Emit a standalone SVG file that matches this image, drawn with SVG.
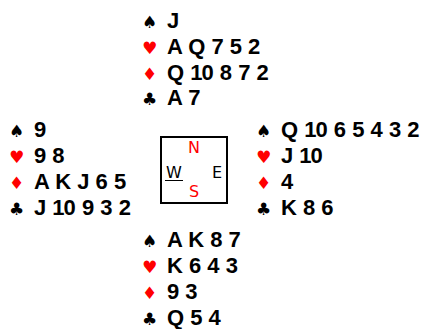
<svg xmlns="http://www.w3.org/2000/svg" width="424" height="329" viewBox="0 0 424 329">
<style>
.c{font-family:"Liberation Sans",Arial,sans-serif;font-weight:bold;font-size:22px;fill:#000}
.t{letter-spacing:-1px}
.s{font-family:"DejaVu Sans",sans-serif;font-size:17px}
.b{fill:#000}.r{fill:#f00}
.d{font-family:"DejaVu Sans",sans-serif;font-size:16px;text-anchor:middle}
</style>
<rect width="424" height="329" fill="#fff"/>
<g id="north">
<text class="s b" x="142" y="28">♠</text><text class="c" x="167" y="28">J</text>
<text class="s r" x="142" y="54">♥</text><text class="c" x="167" y="54">A Q 7 5 2</text>
<text class="s r" x="142" y="80">♦</text><text class="c" x="167" y="80">Q <tspan class="t">1</tspan>0 8 7 2</text>
<text class="s b" x="142" y="105">♣</text><text class="c" x="167" y="105">A 7</text>
</g>
<g id="west">
<text class="s b" x="9" y="137">♠</text><text class="c" x="34" y="137">9</text>
<text class="s r" x="9" y="163">♥</text><text class="c" x="34" y="163">9 8</text>
<text class="s r" x="9" y="189">♦</text><text class="c" x="34" y="189">A K J 6 5</text>
<text class="s b" x="9" y="215">♣</text><text class="c" x="34" y="215">J <tspan class="t">1</tspan>0 9 3 2</text>
</g>
<g id="east">
<text class="s b" x="256" y="137">♠</text><text class="c" x="281" y="137">Q <tspan class="t">1</tspan>0 6 5 4 3 2</text>
<text class="s r" x="256" y="163">♥</text><text class="c" x="281" y="163">J <tspan class="t">1</tspan>0</text>
<text class="s r" x="256" y="189">♦</text><text class="c" x="281" y="189">4</text>
<text class="s b" x="256" y="215">♣</text><text class="c" x="281" y="215">K 8 6</text>
</g>
<g id="south">
<text class="s b" x="142" y="247">♠</text><text class="c" x="167" y="247">A K 8 7</text>
<text class="s r" x="142" y="273">♥</text><text class="c" x="167" y="273">K 6 4 3</text>
<text class="s r" x="142" y="299">♦</text><text class="c" x="167" y="299">9 3</text>
<text class="s b" x="142" y="325">♣</text><text class="c" x="167" y="325">Q 5 4</text>
</g>
<g id="compass">
<rect x="161" y="137" width="66" height="66" fill="none" stroke="#000" stroke-width="2"/>
<text class="d r" x="194" y="153">N</text>
<text class="d b" x="174" y="178">W</text>
<line x1="165" y1="180.5" x2="183" y2="180.5" stroke="#000" stroke-width="1"/>
<text class="d b" x="217" y="178">E</text>
<text class="d r" x="194" y="197">S</text>
</g>
</svg>
